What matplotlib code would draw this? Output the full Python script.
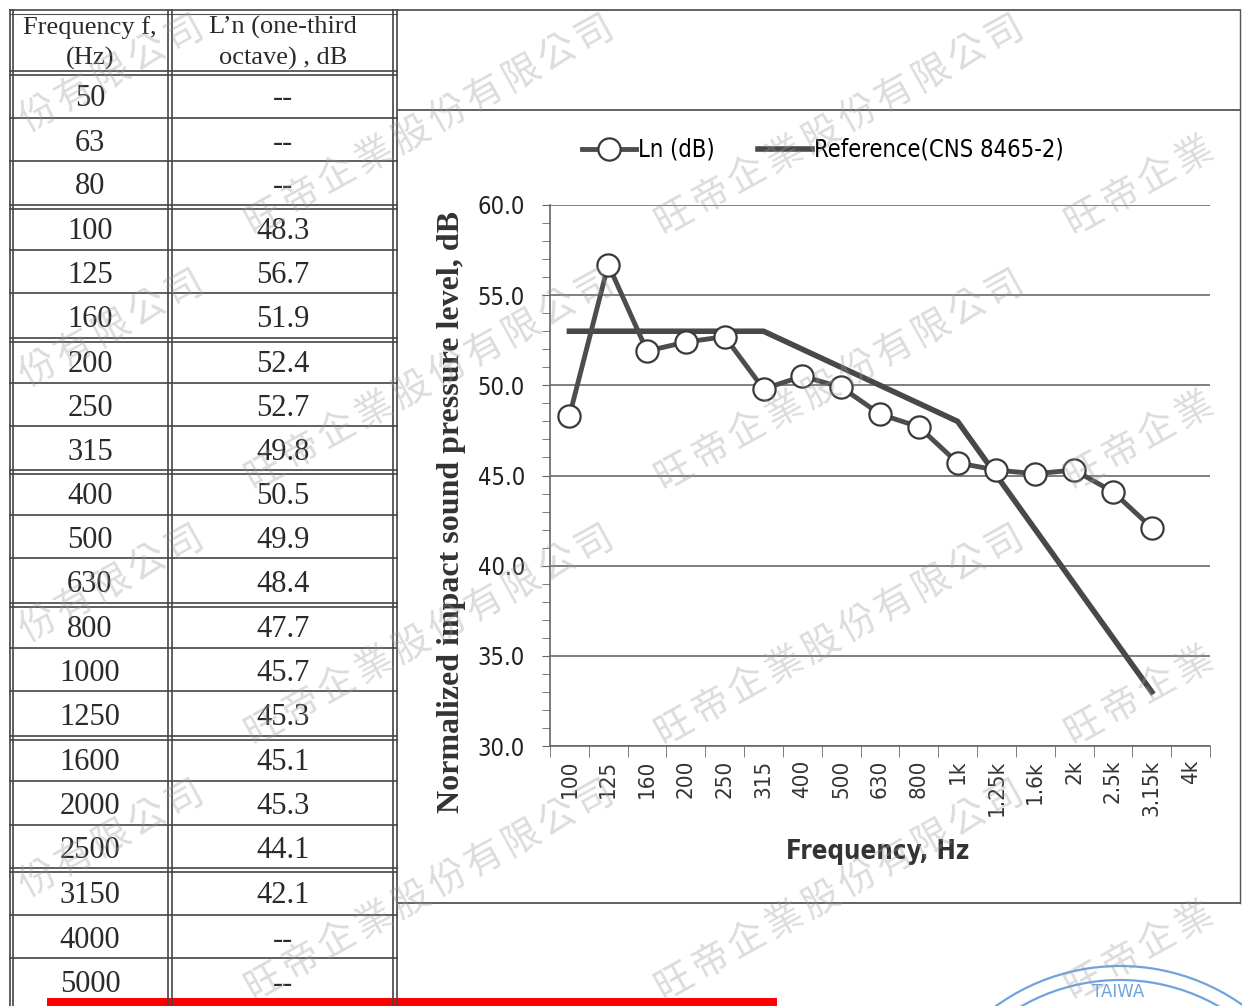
import numpy as np
import matplotlib
matplotlib.use("Agg")
import matplotlib.pyplot as plt
from matplotlib.lines import Line2D
from matplotlib.patches import Rectangle, Circle
from matplotlib.transforms import IdentityTransform
from matplotlib import font_manager

# table data
table_freqs = ["50", "63", "80", "100", "125", "160", "200", "250", "315", "400", "500",
               "630", "800", "1000", "1250", "1600", "2000", "2500", "3150", "4000", "5000"]
table_ln = [None, None, None, 48.3, 56.7, 51.9, 52.4, 52.7, 49.8, 50.5, 49.9,
            48.4, 47.7, 45.7, 45.3, 45.1, 45.3, 44.1, 42.1, None, None]

# chart data
chart_labels = ["100", "125", "160", "200", "250", "315", "400", "500", "630", "800",
                "1k", "1.25k", "1.6k", "2k", "2.5k", "3.15k", "4k"]
ln_values = [48.3, 56.7, 51.9, 52.4, 52.7, 49.8, 50.5, 49.9, 48.4, 47.7,
             45.7, 45.3, 45.1, 45.3, 44.1, 42.1, None]
ref_values = [53, 53, 53, 53, 53, 53, 52, 51, 50, 49, 48, 45, 42, 39, 36, 33, None]

# pick a narrow sans font for the Excel-like chart text
condensed = [f for f in font_manager.fontManager.ttflist
             if f.name == "DejaVu Sans" and f.stretch == "condensed"]
if condensed:
    sans = {"family": "DejaVu Sans", "stretch": "condensed"}
    scale = 1.0
else:
    sans = {"family": "Roboto"}
    scale = 0.95

W, H = 1242, 1006
fig = plt.figure(figsize=(W / 100, H / 100), dpi=100)
fig.patch.set_facecolor("white")


def fx(x):
    return x / W


def fy(y):
    return 1 - y / H


def hline(x0, x1, y, lw=1.3, color="#555555"):
    fig.add_artist(Line2D([fx(x0), fx(x1)], [fy(y), fy(y)], lw=lw, color=color))


def vline(x, y0, y1, lw=1.3, color="#555555"):
    fig.add_artist(Line2D([fx(x), fx(x)], [fy(y0), fy(y1)], lw=lw, color=color))


# ---- table on the left ----
row_edges = [73, 120, 163, 207, 252, 295, 340, 385, 428, 472, 517, 560, 605,
             650, 693, 738, 783, 827, 870, 917, 960, 1006]
double_rows = [207, 340, 472, 605, 738, 870]

hline(10, 1240, 10)
hline(10, 397, 14, lw=0.8)
for y in row_edges[:-1]:
    hline(10, 397, y - 2, lw=1.2, color="#444444")
    if y in double_rows or y == 73:
        hline(10, 397, y + 2, lw=1.2, color="#444444")
for x in [10, 13, 168, 172, 393, 397]:
    vline(x, 10, 1006, lw=1.2, color="#444444")

serif = "Liberation Serif"
fig.text(fx(90), fy(43), "Frequency f,\n(Hz)", ha="center", va="center",
         fontsize=19, family=serif, color="#2a2a2a", linespacing=1.4)
fig.text(fx(283), fy(43), "L\u2019n (one-third\noctave) , dB", ha="center", va="center",
         fontsize=19, family=serif, color="#2a2a2a", linespacing=1.4)
for i, (f, v) in enumerate(zip(table_freqs, table_ln)):
    yc = (row_edges[i] + row_edges[i + 1]) / 2 + 2
    fig.text(fx(90), fy(yc), f, ha="center", va="center", fontsize=22,
             family=serif, color="#2a2a2a")
    fig.text(fx(283), fy(yc), "--" if v is None else f"{v:.1f}", ha="center",
             va="center", fontsize=22, family=serif, color="#2a2a2a")

# ---- chart panel ----
hline(398, 1240, 110)
hline(398, 1240, 903)
vline(1240, 10, 903, lw=1.0)

ax = fig.add_axes([fx(550), fy(746), (1210 - 550) / W, (746 - 205) / H])
x = np.arange(len(chart_labels))
ln_arr = np.array([np.nan if v is None else v for v in ln_values])
ref_arr = np.array([np.nan if v is None else v for v in ref_values])

ax.plot(x, ln_arr, color="#4d4d4d", lw=3.5, marker="o", ms=16, mfc="white",
        mec="#3a3a3a", mew=1.6, label="Ln (dB)", zorder=4)
ax.plot(x, ref_arr, color="#484848", lw=4, label="Reference(CNS 8465-2)", zorder=3)

ax.set_xlim(-0.5, len(chart_labels) - 0.5)
ax.set_ylim(30, 60)
ax.set_yticks(np.arange(30, 61, 5))
ax.set_yticks(np.arange(30, 61, 1), minor=True)
ax.set_yticklabels([f"{v:.1f}" for v in np.arange(30, 61, 5)])
ax.set_xticks(x)
ax.set_xticklabels(chart_labels, rotation=90)
ax.set_xticks(np.arange(-0.5, len(chart_labels)), minor=True)
ax.tick_params(axis="x", which="major", length=0, pad=10, labelsize=16 * scale,
               labelcolor="#333333")
ax.tick_params(axis="x", which="minor", length=8, color="#666666", direction="out")
ax.tick_params(axis="y", which="both", length=6, color="#666666", direction="out")
ax.tick_params(axis="y", which="major", pad=12, labelsize=17 * scale, labelcolor="#222222")
for lab in ax.get_xticklabels() + ax.get_yticklabels():
    lab.set_family(sans["family"])
    if "stretch" in sans:
        lab.set_fontstretch(sans["stretch"])
ax.grid(axis="y", which="major", color="#6a6a6a", lw=1.2)
ax.set_axisbelow(True)
for s in ["top", "right"]:
    ax.spines[s].set_visible(False)
for s in ["left", "bottom"]:
    ax.spines[s].set_color("#666666")
    ax.spines[s].set_linewidth(1.2)

leg_prop = dict(sans)
leg_prop["size"] = 17 * scale
fig.legend(loc="center", bbox_to_anchor=(fx(823), fy(150)), ncol=2, frameon=False,
           handlelength=2.3, columnspacing=1.8, handletextpad=0.1, prop=leg_prop)

fig.text(fx(452), fy(512), "Normalized impact sound pressure level, dB", rotation=90,
         ha="center", va="center", fontsize=23, fontweight="bold", family=serif,
         color="#333333")
fig.text(fx(878), fy(852), "Frequency, Hz", ha="center", va="center",
         fontsize=18.5 * scale, fontweight="bold", color="#333333", **sans)

# ---- watermark, one character at a time so that nothing hangs off the page ----
wm = "旺帝企業股份有限公司"
ang = np.deg2rad(29)
step = 42
for x0 in [-160, 250, 660, 1070]:
    for y0 in [-25, 230, 485, 740, 995, 1250]:
        for i, ch in enumerate(wm):
            cx = x0 + 14 + i * step * np.cos(ang)
            cy = y0 - 14 - i * step * np.sin(ang)
            if 16 < cx < W - 16 and 16 < cy < H - 16:
                fig.text(fx(cx), fy(cy), ch, rotation=29, ha="center", va="center",
                         fontsize=27, color="#9a9a9a", alpha=0.35,
                         family=["Noto Sans CJK TC", "DejaVu Sans"], zorder=10)

# ---- stamp (pixel coordinates, origin bottom-left) and red bar ----
for r in [212, 198]:
    fig.add_artist(Circle((1120, H - 1178), r, transform=IdentityTransform(),
                          fill=False, ec="#6fa3de", lw=1.6))
fig.text(fx(1118), fy(992), "TAIWA", ha="center", va="center", fontsize=12,
         color="#6fa3de", family="DejaVu Sans")
fig.add_artist(Rectangle((fx(47), fy(1006)), (777 - 47) / W, 8 / H,
                         transform=fig.transFigure, color="#ff0000", lw=0))

fig.savefig("out.png", dpi=100)
